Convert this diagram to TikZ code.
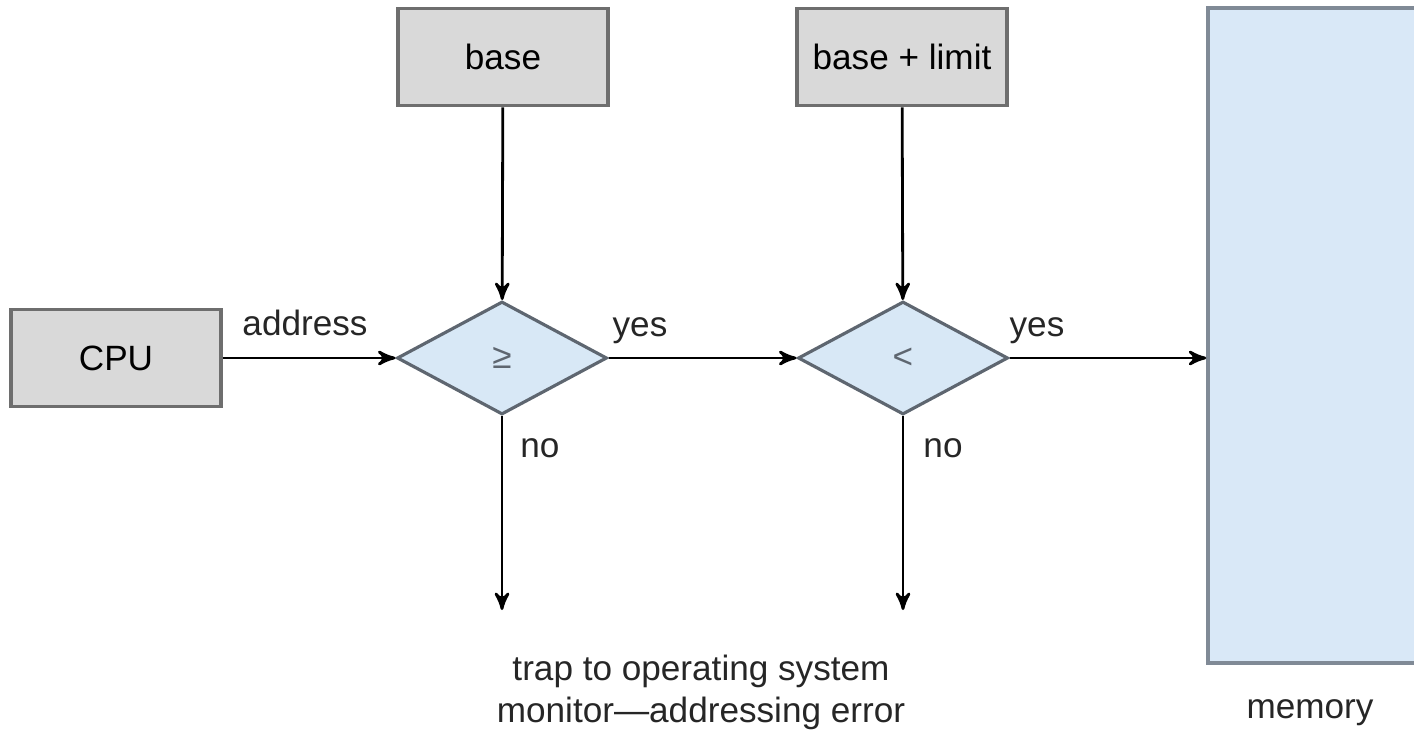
\documentclass[tikz,border=0pt]{standalone}
\usepackage{fontspec}
\setmainfont{Liberation Sans}
\usetikzlibrary{arrows,shapes.geometric,positioning}

\definecolor{boxgray}{HTML}{D9D9D9}
\definecolor{boxedge}{HTML}{6E6E6E}
\definecolor{cmpfill}{HTML}{D8E8F6}
\definecolor{cmpedge}{HTML}{5E6670}
\definecolor{memfill}{HTML}{D9E8F7}
\definecolor{memedge}{HTML}{808A96}

\begin{document}
\begin{tikzpicture}[>=stealth', line width=0.8pt, font=\fontsize{10}{12}\selectfont,
	box/.style={draw=boxedge, fill=boxgray, line width=1pt, minimum width=2.1cm, minimum height=0.97cm, inner sep=0pt},
	cmp/.style={diamond, draw=cmpedge, fill=cmpfill, line width=0.9pt, aspect=1.86, minimum width=2.1cm, minimum height=1.13cm, inner sep=0pt},
	mem/.style={draw=memedge, fill=memfill, line width=1pt, minimum width=2.22cm, minimum height=6.55cm, inner sep=0pt},
	lbl/.style={text=black!85}]
	\useasboundingbox (0,0) rectangle (14.14,7.38);

	% Nodes {cpu, base, limit, ge, lt, mem}
	\node [box] (cpu)   at (1.16,3.80)  {CPU};
	\node [box] (base)  at (5.03,6.81)  {base};
	\node [box] (limit) at (9.02,6.81)  {base + limit};
	\node [cmp] (ge)    at (5.02,3.80)  {\textcolor{cmpedge}{≥}};
	\node [cmp] (lt)    at (9.03,3.80)  {\textcolor{cmpedge}{<}};
	\node [mem] (mem)   at (13.19,4.025) {};

	% trap ends
	\coordinate (t1) at (5.02,1.28);
	\coordinate (t2) at (9.03,1.28);

	% Paths
	\draw [->] (cpu)   -- (ge);
	\draw [->] (base)  -- (ge);
	\draw [->] (limit) -- (lt);
	\draw [->] (ge)    -- (lt);
	\draw [->] (lt)    -- (lt -| mem.west);
	\draw [->] (ge.south) -- (t1);
	\draw [->] (lt.south) -- (t2);

	% Labels
	\node [lbl] (addr) at (3.05,4.15) {address};
	\node [lbl] (yes1) at (6.40,4.07) {yes};
	\node [lbl] (yes2) at (10.37,4.07) {yes};
	\node [lbl] (no1)  at (5.40,2.90) {no};
	\node [lbl] (no2)  at (9.43,2.90) {no};
	\node [lbl, align=center] (trap) at (7.01,0.46) {trap to operating system\\monitor---addressing error};
	\node [lbl] (meml) at (13.10,0.25) {memory};

\end{tikzpicture}
\end{document}
